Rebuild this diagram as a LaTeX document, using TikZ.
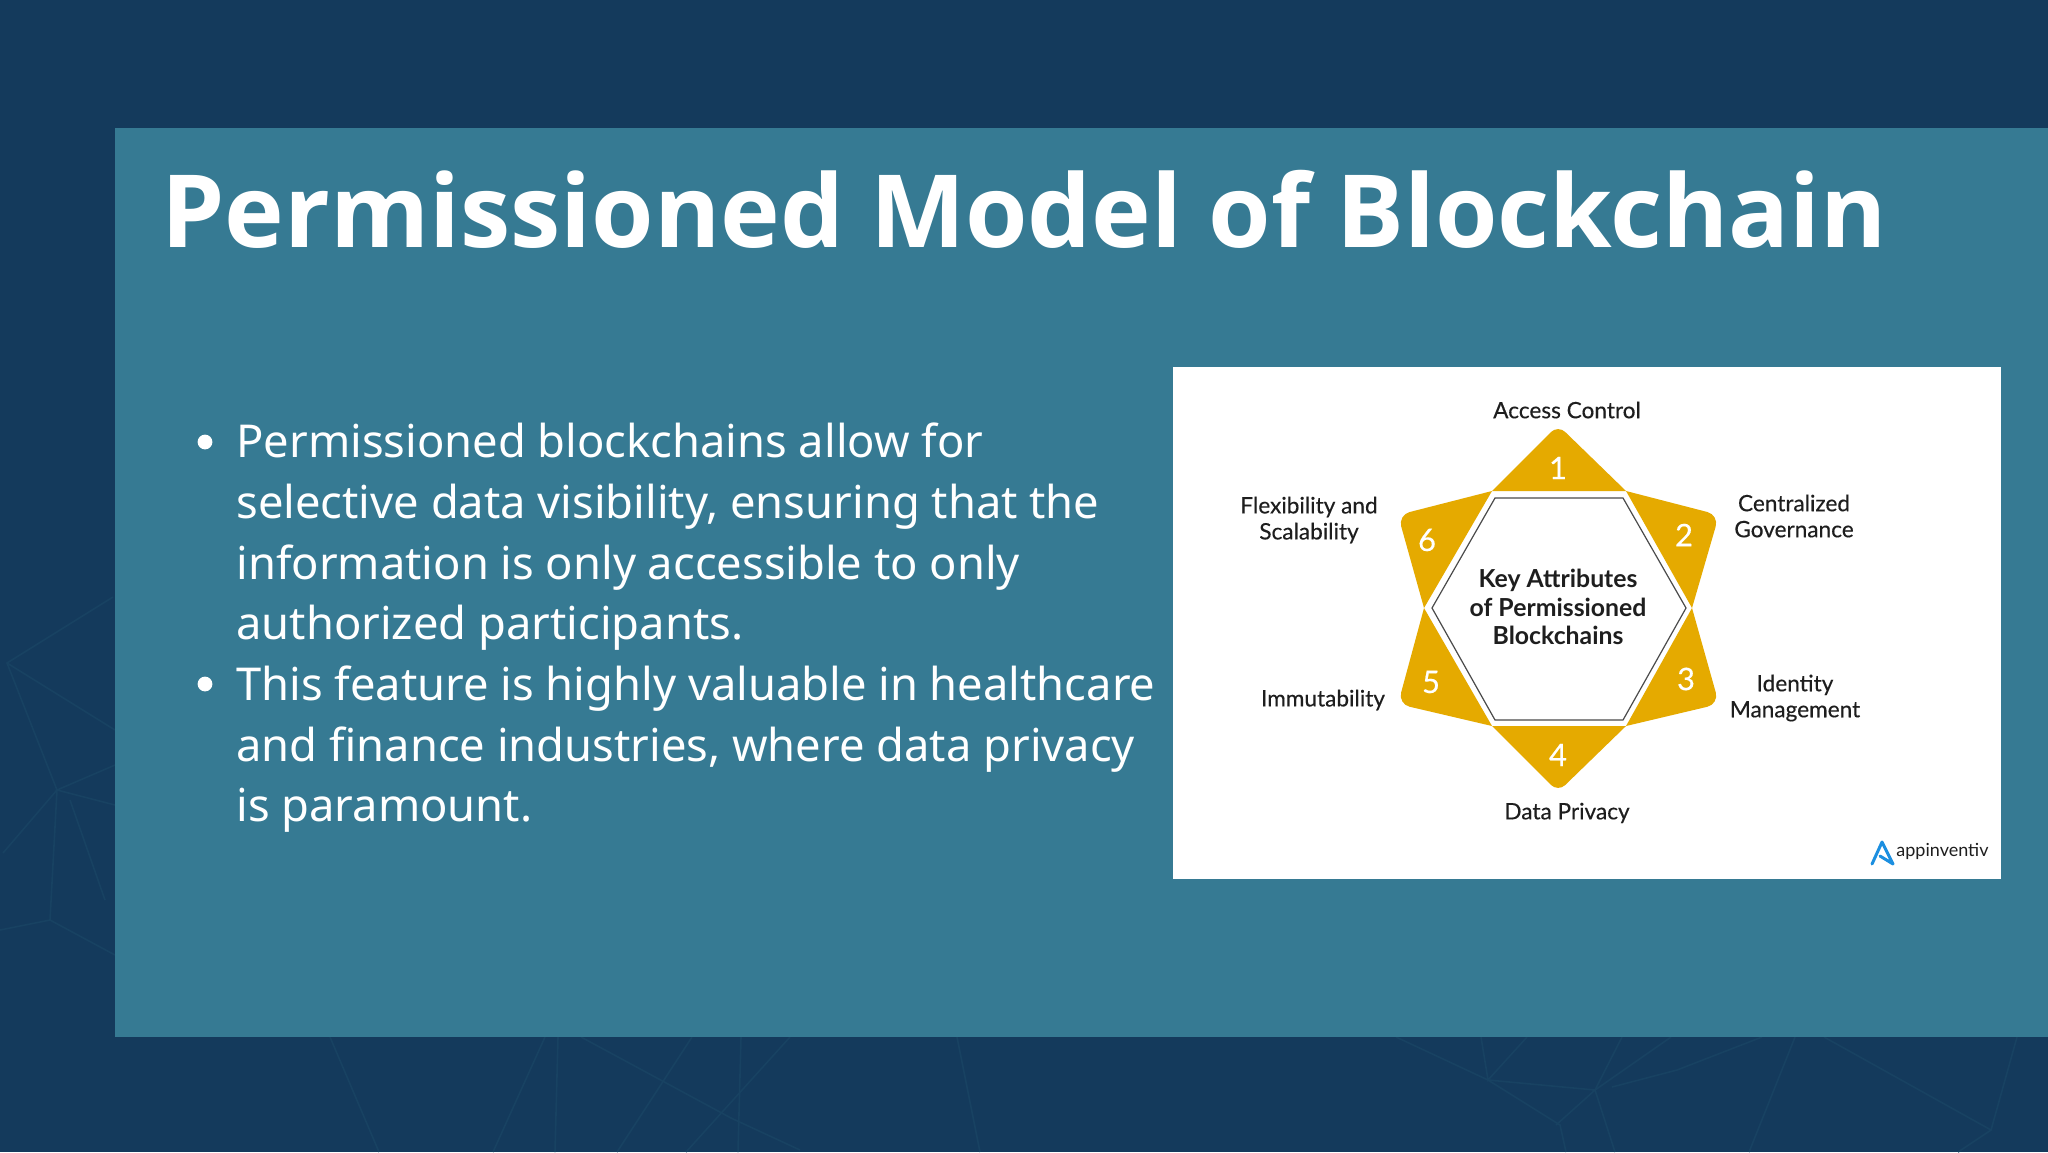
\documentclass[tikz,border=0pt]{standalone}
\usepackage{fontspec}
\setmainfont{Noto Sans}
\newfontfamily\titlefont{Open Sans}
\newfontfamily\diagfont{Lato}
\newfontfamily\attrfont{Lato}[FakeBold=0.3]
\usetikzlibrary{positioning}
\definecolor{navy}{HTML}{143A5C}
\definecolor{netblue}{HTML}{184262}
\definecolor{panelteal}{HTML}{367A93}
\definecolor{petal}{HTML}{E5AA00}
\definecolor{inkdark}{HTML}{1E1E1E}
\definecolor{logoblue}{HTML}{1C8FE0}

\begin{document}
\begin{tikzpicture}[
  x=0.5pt, y=-0.5pt,
  netline/.style={draw=netblue, line width=0.8pt},
  numlabel/.style={font=\attrfont\fontsize{15.5}{15.5}\selectfont, text=white, inner sep=0pt},
  attrlabel/.style={font=\attrfont\fontsize{11.3}{13}\selectfont, text=inkdark, align=center, inner sep=0pt},
  bodyline/.style={font=\fontsize{22.65}{23}\selectfont, text=white, anchor=base west, inner sep=0pt}
]
\useasboundingbox (0,0) rectangle (2048,1152);
\fill[navy] (0,0) rectangle (2048,1152);

% faint web, left side
\draw[netline] (3,853) -- (57,790) -- (7,663) -- (113,597);
\draw[netline] (7,663) -- (115,730);
\draw[netline] (115,765) -- (57,790) -- (115,805);
\draw[netline] (57,790) -- (50,920) -- (0,930);
\draw[netline] (50,920) -- (115,955);
\draw[netline] (70,800) -- (105,900);
% faint web, bottom
\draw[netline] (330,1037) -- (379,1152);
\draw[netline] (545,1037) -- (493,1152);
\draw[netline] (558,1037) -- (555,1152);
\draw[netline] (581,1037) -- (731,1118) -- (800,1150);
\draw[netline] (692,1037) -- (617,1152);
\draw[netline] (790,1037) -- (686,1152);
\draw[netline] (741,1037) -- (738,1152);
\draw[netline] (957,1037) -- (980,1152);
\draw[netline] (1396,1037) -- (1488,1080) -- (1560,1125) -- (1566,1152);
\draw[netline] (1527,1037) -- (1488,1080) -- (1481,1037);
\draw[netline] (1488,1080) -- (1595,1090) -- (1556,1125);
\draw[netline] (1622,1037) -- (1595,1090) -- (1615,1152);
\draw[netline] (1671,1037) -- (1595,1090);
\draw[netline] (1762,1037) -- (1677,1070) -- (1612,1087);
\draw[netline] (1795,1037) -- (1749,1152);
\draw[netline] (1824,1037) -- (1991,1130) -- (1958,1152);
\draw[netline] (2017,1037) -- (1991,1130);

\fill[panelteal] (115,128) rectangle (2048,1037);
\fill[white] (1173,367) rectangle (2001,879);

\node[font=\titlefont\bfseries\fontsize{50.5}{52}\selectfont, text=white, anchor=base west, inner sep=0pt] (title) at (161,247) {Permissioned Model of Blockchain};

% bullets
\fill[white] (205,442) circle (3.7pt);
\fill[white] (205,684) circle (3.7pt);
\node[bodyline] (line1) at (236,457) {Permissioned blockchains allow for};
\node[bodyline] (line2) at (236,518) {selective data visibility, ensuring that the};
\node[bodyline] (line3) at (236,579) {information is only accessible to only};
\node[bodyline] (line4) at (236,639) {authorized participants.};
\node[bodyline] (line5) at (236,700) {This feature is highly valuable in healthcare};
\node[bodyline] (line6) at (236,761) {and finance industries, where data privacy};
\node[bodyline] (line7) at (236,821) {is paramount.};

% star
\fill[petal] (1492,491) [rounded corners=5pt] -- (1558,425) [sharp corners] -- (1626,491) -- cycle;
\fill[petal] (1626,491) [rounded corners=6pt] -- (1719,515) [sharp corners] -- (1692,608) -- cycle;
\fill[petal] (1692,608) [rounded corners=6pt] -- (1719,704) [sharp corners] -- (1626,726) -- cycle;
\fill[petal] (1626,726) [rounded corners=5pt] -- (1558,792) [sharp corners] -- (1492,726) -- cycle;
\fill[petal] (1492,726) [rounded corners=6pt] -- (1398,704) [sharp corners] -- (1424,608) -- cycle;
\fill[petal] (1424,608) [rounded corners=6pt] -- (1398,515) [sharp corners] -- (1492,491) -- cycle;
\draw[inkdark!80, line width=0.6pt] (1495,498) -- (1623,498) -- (1686,608) -- (1623,720) -- (1495,720) -- (1432,608) -- cycle;

\node[numlabel] (n1) at (1558,468) {1};
\node[numlabel] (n2) at (1684,535) {2};
\node[numlabel] (n3) at (1686,679) {3};
\node[numlabel] (n4) at (1558,755) {4};
\node[numlabel] (n5) at (1431,682) {5};
\node[numlabel] (n6) at (1427,540) {6};

\node[font=\diagfont\bfseries\fontsize{12.4}{14.4}\selectfont, text=inkdark, align=center, inner sep=0pt] (hub) at (1558,607) {Key Attributes\\of Permissioned\\Blockchains};

\node[attrlabel] (access) at (1567,410) {Access Control};
\node[attrlabel] (gov) at (1794,516) {Centralized\\Governance};
\node[attrlabel] (ident) at (1795,698) {Identity\\Management};
\node[attrlabel] (privacy) at (1567,813) {Data Privacy};
\node[attrlabel] (immut) at (1323,700) {Immutability};
\node[attrlabel] (flex) at (1309,520) {Flexibility and\\Scalability};

% logo
\draw[logoblue, line width=1.5pt, line join=round, line cap=round] (1872,864) -- (1882,842) -- (1893,864) -- (1880,856);
\node[font=\diagfont\fontsize{9}{9}\selectfont, text=inkdark, anchor=base west, inner sep=0pt] (logo) at (1896,856) {appinventiv};
\end{tikzpicture}
\end{document}
